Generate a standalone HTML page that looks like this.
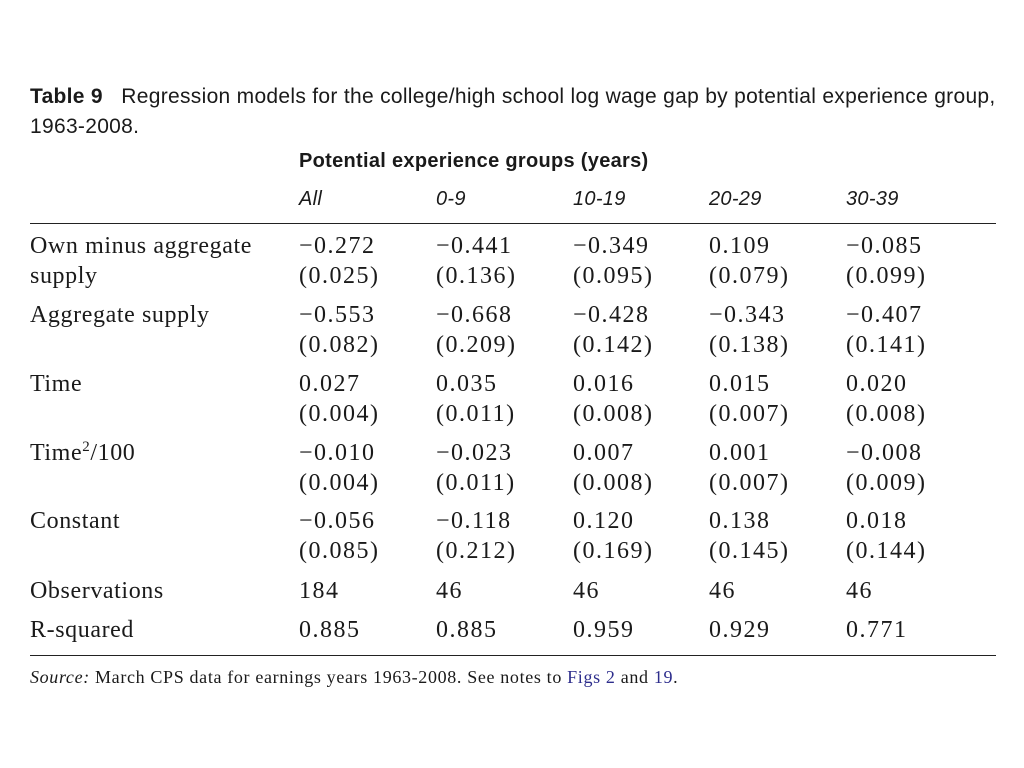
<!DOCTYPE html>
<html><head><meta charset="utf-8"><style>
body{margin:0;width:1024px;height:768px;background:#fff;position:relative;overflow:hidden;color:#1a1a1a}
.s{position:absolute;font-family:"Liberation Sans",sans-serif;font-size:21px;letter-spacing:0.3px;line-height:24px;white-space:nowrap}
.r{position:absolute;font-family:"Liberation Serif",serif;font-size:24px;letter-spacing:0.6px;line-height:26px;white-space:nowrap}
.n{letter-spacing:1.5px}
.rule{position:absolute;left:30px;width:966px;height:1px;background:#222}
a{color:#2d2d8c;text-decoration:none}
</style></head><body>
<div class="s" style="left:30px;top:85px"><b>Table 9</b>&nbsp;&nbsp; Regression models for the college/high school log wage gap by potential experience group,</div>
<div class="s" style="left:30px;top:115px">1963-2008.</div>
<div class="s" style="left:299px;top:149px;font-weight:bold;font-size:20px">Potential experience groups (years)</div>
<div>
<div class="s" style="left:299px;top:187px;font-style:italic;font-size:20px">All</div>
<div class="s" style="left:436px;top:187px;font-style:italic;font-size:20px">0-9</div>
<div class="s" style="left:573px;top:187px;font-style:italic;font-size:20px">10-19</div>
<div class="s" style="left:709px;top:187px;font-style:italic;font-size:20px">20-29</div>
<div class="s" style="left:846px;top:187px;font-style:italic;font-size:20px">30-39</div>
</div>
<div class="rule" style="top:223px"></div>
<div class="rule" style="top:655px"></div>
<div id="body"></div>
<div class="r" style="left:30px;top:664px;font-size:18px;letter-spacing:0.65px"><i>Source:</i> March CPS data for earnings years 1963-2008. See notes to <a>Figs 2</a> and <a>19</a>.</div>
<script>
const labels=[["Own minus aggregate","supply"],["Aggregate supply",""],["Time",""],["Time<sup style='font-size:15px;line-height:0'>2</sup>/100",""],["Constant",""],["Observations"],["R-squared"]];
const coefs=[["−0.272","−0.441","−0.349","0.109","−0.085"],["−0.553","−0.668","−0.428","−0.343","−0.407"],["0.027","0.035","0.016","0.015","0.020"],["−0.010","−0.023","0.007","0.001","−0.008"],["−0.056","−0.118","0.120","0.138","0.018"],["184","46","46","46","46"],["0.885","0.885","0.959","0.929","0.771"]];
const ses=[["(0.025)","(0.136)","(0.095)","(0.079)","(0.099)"],["(0.082)","(0.209)","(0.142)","(0.138)","(0.141)"],["(0.004)","(0.011)","(0.008)","(0.007)","(0.008)"],["(0.004)","(0.011)","(0.008)","(0.007)","(0.009)"],["(0.085)","(0.212)","(0.169)","(0.145)","(0.144)"],null,null];
const rowTops=[233,302,371,440,508,578,617];
const colX=[299,436,573,709,846];
const b=document.getElementById('body');
function add(x,y,h,name,num){const d=document.createElement('div');d.className=num?'r n':'r';d.style.left=x+'px';d.style.top=y+'px';d.innerHTML=h;


b.appendChild(d);}
labels.forEach((l,i)=>{add(30,rowTops[i],l[0],'row-label');if(l[1])add(30,rowTops[i]+30,l[1],'row-label-cont');
coefs[i].forEach((v,j)=>add(colX[j],rowTops[i],v,'coef-cell',1));
if(ses[i])ses[i].forEach((v,j)=>add(colX[j],rowTops[i]+30,v,'se-cell',1));});
</script>
</body></html>
